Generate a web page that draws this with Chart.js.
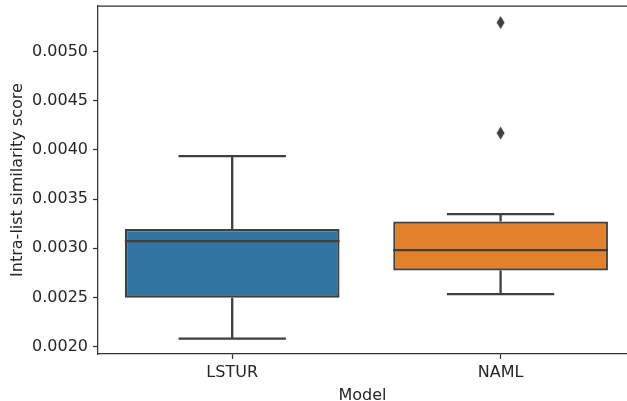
<!DOCTYPE html>
<html>
<head>
<meta charset="utf-8">
<script src="https://cdn.jsdelivr.net/npm/chart.js@4"></script>
<style>
  html, body { margin: 0; padding: 0; background: #fff; overflow: hidden; }
  #wrap { width: 627px; height: 401px; }
</style>
</head>
<body>
<div id="wrap"><canvas id="GraficoBox"></canvas></div>
<script>
// valores
const modelos = ['LSTUR', 'NAML'];
const cores = ['#3274a1', '#e1812c'];
const q1 = [0.002497, 0.002772];
const mediana = [0.003072, 0.002981];
const q3 = [0.003194, 0.003271];
const bigodeInf = [0.002080, 0.002533];
const bigodeSup = [0.003937, 0.003347];
const outliersNAML = [0.005295, 0.004171];
const ticksY = [0.0020, 0.0025, 0.0030, 0.0035, 0.0040, 0.0045, 0.0050];

const corLinha = '#3f3f3f';
const fonte = "'DejaVu Sans', sans-serif";

// diamante fino, como o marcador 'd' do matplotlib
function criaDiamante() {
  const c = document.createElement('canvas');
  c.width = 9; c.height = 14;
  const ctx = c.getContext('2d');
  ctx.fillStyle = corLinha;
  ctx.beginPath();
  ctx.moveTo(4.5, 0.5);
  ctx.lineTo(8.5, 7);
  ctx.lineTo(4.5, 13.5);
  ctx.lineTo(0.5, 7);
  ctx.closePath();
  ctx.fill();
  return c;
}

const bigodes = {
  id: 'bigodes',
  afterDatasetsDraw(chart) {
    const ctx = chart.ctx;
    const x = chart.scales.x, y = chart.scales.y;
    const meta = chart.getDatasetMeta(0);
    ctx.save();
    ctx.strokeStyle = corLinha;
    ctx.lineWidth = 2.3;
    meta.data.forEach((bar, i) => {
      const cx = x.getPixelForValue(i);
      const meia = bar.width / 2;
      const tampa = bar.width / 4;
      ctx.beginPath();
      // bigode de cima
      ctx.moveTo(cx, y.getPixelForValue(q3[i]));
      ctx.lineTo(cx, y.getPixelForValue(bigodeSup[i]));
      ctx.moveTo(cx - tampa, y.getPixelForValue(bigodeSup[i]));
      ctx.lineTo(cx + tampa, y.getPixelForValue(bigodeSup[i]));
      // bigode de baixo
      ctx.moveTo(cx, y.getPixelForValue(q1[i]));
      ctx.lineTo(cx, y.getPixelForValue(bigodeInf[i]));
      ctx.moveTo(cx - tampa, y.getPixelForValue(bigodeInf[i]));
      ctx.lineTo(cx + tampa, y.getPixelForValue(bigodeInf[i]));
      // mediana
      ctx.moveTo(cx - meia, y.getPixelForValue(mediana[i]));
      ctx.lineTo(cx + meia, y.getPixelForValue(mediana[i]));
      ctx.stroke();
    });
    // linha de cima da moldura
    const area = chart.chartArea;
    ctx.strokeStyle = '#333';
    ctx.lineWidth = 1.25;
    ctx.beginPath();
    ctx.moveTo(area.left, area.top);
    ctx.lineTo(area.right, area.top);
    ctx.stroke();
    ctx.restore();
  }
};

const grafico = document.getElementById('GraficoBox');

const graficoBox = new Chart(grafico, {
  type: 'bar',
  data: {
    datasets: [{
      label: 'caixas',
      data: modelos.map((m, i) => ({ x: i, y: [q1[i], q3[i]] })),
      backgroundColor: cores,
      borderColor: corLinha,
      borderWidth: 2.3,
      borderSkipped: false,
      barPercentage: 0.8,
      categoryPercentage: 1.0
    }, {
      type: 'scatter',
      label: 'outliers',
      data: outliersNAML.map(v => ({ x: 1, y: v })),
      pointStyle: criaDiamante(),
      pointRadius: 5
    }]
  },
  options: {
    responsive: true,
    maintainAspectRatio: false,
    animation: false,
    layout: { autoPadding: false, padding: { top: 6, right: 0, left: 0, bottom: 0 } },
    plugins: {
      legend: { display: false },
      tooltip: { enabled: false }
    },
    scales: {
      x: {
        type: 'linear',
        offset: false,
        min: -0.5,
        max: 1.471,
        afterBuildTicks: (s) => { s.ticks = modelos.map((m, i) => ({ value: i })); },
        afterFit: (s) => { s.height = 47; s.paddingLeft = 0; s.paddingRight = 0; },
        ticks: {
          callback: (v) => modelos[v],
          color: '#262626',
          font: { family: fonte, size: 16 },
          padding: 4,
          maxRotation: 0
        },
        grid: { display: true, offset: false, drawOnChartArea: false, tickLength: 5, tickWidth: 1.25, tickColor: '#333' },
        border: { display: true, color: '#333', width: 1.25 },
        title: {
          display: true,
          text: 'Model',
          color: '#262626',
          font: { family: fonte, size: 16 },
          padding: { top: 6, bottom: -4 }
        }
      },
      y: {
        min: 0.001924,
        max: 0.005463,
        afterBuildTicks: (s) => { s.ticks = ticksY.map(v => ({ value: v })); },
        afterFit: (s) => { s.width = 98; s.paddingTop = 0; s.paddingBottom = 0; },
        ticks: {
          callback: (v) => v.toFixed(4),
          color: '#262626',
          font: { family: fonte, size: 16 },
          padding: 5
        },
        grid: { display: true, drawOnChartArea: false, tickLength: 5, tickWidth: 1.25, tickColor: '#333' },
        border: { display: true, color: '#333', width: 1.25 },
        title: {
          display: true,
          text: 'Intra-list similarity score',
          color: '#262626',
          font: { family: fonte, size: 16 },
          padding: { top: 8, bottom: 4 }
        }
      }
    }
  },
  plugins: [bigodes]
});
</script>
</body>
</html>
